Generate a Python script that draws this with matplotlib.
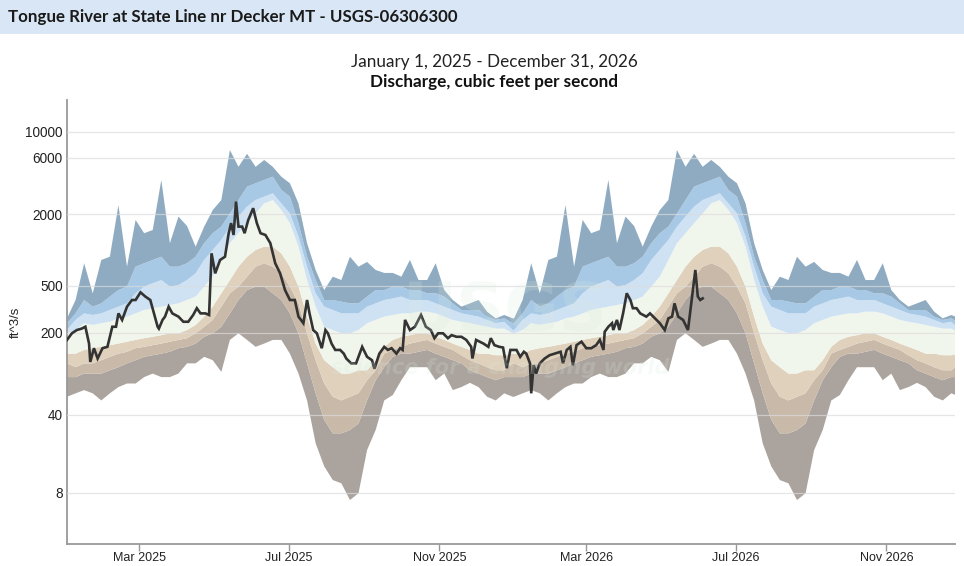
import numpy as np
import matplotlib
matplotlib.use("Agg")
import matplotlib.pyplot as plt
import matplotlib.dates as mdates
from matplotlib.patches import Rectangle

# daily statistics (sampled weekly, day of year from Jan 1), cfs
band_doy = list(range(0, 365, 7))
max_cfs = [265, 379, 775, 432, 826, 880, 2400, 725, 1800, 1390,
           1480, 3910, 1145, 1920, 1600, 1070, 1580, 2180, 2650, 7000,
           5050, 6500, 5050, 5770, 5050, 4170, 3670, 2480, 1145, 680,
           460, 597, 559, 880, 725, 795, 680, 642, 642, 597,
           826, 559, 559, 775, 460, 379, 333, 355, 379, 302,
           265, 283, 265]
p95_cfs = [241, 292, 379, 333, 355, 405, 460, 492, 725, 775,
           826, 880, 725, 725, 775, 880, 1145, 1390, 1580, 2040,
           2650, 3430, 3670, 3910, 4170, 3220, 2830, 1690, 880, 559,
           379, 379, 367, 355, 355, 405, 460, 460, 492, 492,
           460, 460, 432, 432, 405, 355, 312, 312, 312, 274,
           257, 265, 241]
p90_cfs = [211, 257, 292, 283, 292, 312, 333, 355, 432, 492,
           525, 559, 492, 507, 559, 637, 826, 1004, 1219, 1580,
           1920, 2330, 2650, 2830, 3020, 2480, 2040, 1300, 725, 432,
           333, 312, 292, 292, 292, 333, 355, 379, 391, 405,
           379, 379, 379, 355, 333, 312, 292, 283, 274, 257,
           241, 248, 211]
p75_cfs = [198, 211, 241, 233, 241, 248, 265, 274, 292, 312,
           323, 333, 344, 355, 379, 405, 492, 597, 826, 1145,
           1390, 1690, 2040, 2480, 2650, 2180, 1690, 1070, 559, 333,
           225, 211, 198, 198, 211, 241, 257, 274, 283, 292,
           292, 302, 302, 292, 274, 257, 248, 241, 233, 225,
           217, 217, 198]
p25_cfs = [133, 133, 143, 148, 152, 157, 162, 168, 174, 180,
           185, 191, 198, 198, 211, 233, 274, 333, 432, 559,
           725, 880, 1004, 1070, 1070, 940, 725, 492, 274, 162,
           117, 102, 90, 90, 96, 96, 117, 152, 174, 185,
           191, 198, 198, 185, 174, 162, 152, 143, 133, 133,
           129, 129, 133]
p10_cfs = [110, 102, 110, 110, 117, 125, 133, 138, 148, 152,
           157, 162, 168, 174, 180, 198, 225, 257, 333, 432,
           492, 597, 725, 775, 725, 637, 492, 355, 198, 117,
           74, 57, 53, 57, 61, 79, 96, 133, 143, 152,
           162, 168, 174, 162, 152, 143, 129, 117, 110, 102,
           96, 96, 110]
p05_cfs = [84, 84, 90, 90, 90, 96, 102, 110, 117, 125,
           129, 133, 138, 148, 152, 162, 185, 198, 225, 292,
           379, 460, 492, 492, 432, 379, 292, 198, 110, 61,
           36, 27.5, 27.5, 29.4, 33.5, 53, 79, 102, 125, 133,
           133, 138, 143, 133, 125, 117, 110, 96, 90, 84,
           79, 84, 84]
min_cfs = [57, 61, 65, 61, 53, 61, 69, 74, 74, 84,
           90, 84, 84, 90, 110, 110, 125, 117, 93, 174,
           198, 174, 152, 162, 174, 174, 133, 90, 53, 22.5,
           14, 10.5, 9.8, 6.8, 7.9, 19.6, 29.4, 53, 59, 79,
           102, 102, 102, 79, 90, 65, 69, 75, 69, 57,
           53, 61, 57]

# observed discharge, days since 2025-01-01
obs_day = [0, 4, 8, 12, 15, 18, 19, 22, 25, 29, 33, 37, 40, 42, 45, 49, 53, 56, 60, 64,
           68, 71, 74, 75, 78, 80, 83, 86, 91, 95, 99, 103, 106, 109, 113, 116, 118, 121, 125, 129,
           132, 134, 136, 138, 140, 143, 145, 148, 152, 155, 158, 162, 166, 170, 174, 178, 182, 186, 189, 193,
           196, 198, 201, 204, 208, 211, 213, 216, 219, 223, 226, 228, 232, 236, 241, 245, 249, 251, 255, 259,
           262, 265, 269, 272, 274, 276, 280, 284, 289, 293, 297, 300, 303, 307, 311, 314, 318, 322, 326, 330,
           331, 334, 340, 344, 346, 349, 353, 356, 359, 362, 367, 370, 373, 375, 378, 379, 381, 383, 386, 390,
           394, 398, 403, 405, 408, 411, 413, 416, 420, 424, 428, 432, 435, 438, 439, 442, 445, 446, 449, 451,
           454, 457, 460, 462, 465, 468, 473, 476, 480, 484, 488, 491, 494, 496, 499, 503, 507, 510, 513, 515,
           517, 519]
obs_cfs = [174, 198, 211, 217, 225, 162, 113, 148, 121, 148, 152, 225, 225, 292, 257, 333, 379, 379, 440, 405,
           379, 292, 225, 217, 257, 274, 333, 292, 274, 248, 248, 283, 323, 292, 292, 283, 940, 637, 826, 880,
           1390, 1690, 1343, 2570, 1580, 1580, 1390, 1800, 2260, 1690, 1390, 1343, 1145, 775, 637, 460, 379, 379, 274, 241,
           379, 292, 211, 198, 148, 211, 198, 162, 143, 143, 133, 121, 110, 110, 152, 125, 117, 99, 133, 152,
           143, 148, 133, 148, 143, 257, 211, 225, 283, 225, 211, 180, 198, 198, 180, 191, 185, 185, 174, 152,
           121, 174, 162, 152, 180, 157, 152, 150, 100, 143, 143, 125, 138, 133, 110, 61, 106, 90, 110, 121,
           129, 133, 138, 110, 143, 152, 106, 157, 168, 148, 148, 157, 174, 143, 204, 225, 241, 211, 257, 211,
           292, 432, 379, 323, 323, 292, 274, 292, 265, 241, 211, 265, 274, 355, 274, 257, 211, 379, 680, 405,
           379, 391]

yticks = [8, 40, 200, 500, 2000, 6000, 10000]
band_colors = ['#aba39d', '#c9b9a8', '#e0d1bc', '#f1f6ec', '#cfe2f3', '#a8c9e6', '#8fabc1']

start = np.datetime64('2025-01-01')

W, H = 964, 566
fig = plt.figure(figsize=(W / 100, H / 100), dpi=100)

# header bar
fig.patches.append(Rectangle((0, 1 - 34 / H), 1, 34 / H, transform=fig.transFigure,
                             facecolor='#d9e6f5', edgecolor='none', zorder=0))
fig.text(8 / W, 1 - 17 / H, 'Tongue River at State Line nr Decker MT - USGS-06306300',
         ha='left', va='center', fontsize=12.2, fontweight='bold', family='Lato', color='#1a1a1a')
fig.text(494 / W, 1 - 62 / H, 'January 1, 2025 - December 31, 2026',
         ha='center', va='center', fontsize=12.3, family='Lato', color='#222222')
fig.text(494 / W, 1 - 82 / H, 'Discharge, cubic feet per second',
         ha='center', va='center', fontsize=12.3, fontweight='bold', family='Lato', color='#111111')

ax = fig.add_axes([67 / W, 22 / H, (955 - 67) / W, (544 - 100) / H])


def fwd(v):
    return np.log10(np.clip(v, 1e-9, None) + 1)


def inv(u):
    return 10 ** u - 1


ax.set_yscale('function', functions=(fwd, inv))

# two years of the same daily statistics
doy = np.array(band_doy)
days = np.concatenate([doy, doy + 365])
dates = start + days.astype('timedelta64[D]')
levels = [min_cfs, p05_cfs, p10_cfs, p25_cfs, p75_cfs, p90_cfs, p95_cfs, max_cfs]
levels = [np.tile(np.array(l, dtype=float), 2) for l in levels]
for i, c in enumerate(band_colors):
    ax.fill_between(dates, levels[i], levels[i + 1], facecolor=c, edgecolor='none',
                    linewidth=0, zorder=1)

# faint watermark
fig.text(505 / W, 1 - 312 / H, 'USGS', ha='center', va='center', fontsize=48,
         fontweight='bold', color='#d6ebe0', alpha=0.2, zorder=3)
fig.text(500 / W, 1 - 368 / H, 'science for a changing world', ha='center', va='center',
         fontsize=15, fontstyle='italic', fontweight='bold', color='#d6ebe0', alpha=0.2, zorder=3)

obs_dates = start + np.array(obs_day).astype('timedelta64[D]')
ax.plot(obs_dates, obs_cfs, color='#333333', lw=1.9, zorder=5, solid_joinstyle='miter')

ax.set_xlim(start, np.datetime64('2026-12-27'))
ax.set_ylim(2.32, 18500)

ax.set_yticks(yticks)
ax.set_yticklabels([str(t) for t in yticks], family='Liberation Sans', fontsize=9.8, color='#222222')
ax.yaxis.set_minor_locator(matplotlib.ticker.NullLocator())
ax.tick_params(axis='y', length=0, pad=3)
ax.grid(axis='y', color='#dcdcdc', lw=0.9, alpha=0.7, zorder=4)
ax.set_axisbelow(False)

ax.xaxis.set_major_locator(mdates.MonthLocator(bymonth=[3, 7, 11]))
ax.xaxis.set_major_formatter(mdates.DateFormatter('%b %Y'))
ax.tick_params(axis='x', length=5, width=1, color='#999999', labelsize=9,
               labelcolor='#222222', pad=1)
for lab in ax.get_xticklabels():
    lab.set_family('Liberation Sans')

for s in ['top', 'right']:
    ax.spines[s].set_visible(False)
for s in ['left', 'bottom']:
    ax.spines[s].set_color('#999999')
    ax.spines[s].set_linewidth(1.3)

fig.text(16 / W, 1 - 322 / H, 'ft^3/s', rotation=90, ha='center', va='center',
         fontsize=9.5, family='Liberation Sans', color='#222222')

fig.savefig('out.png', dpi=100)
